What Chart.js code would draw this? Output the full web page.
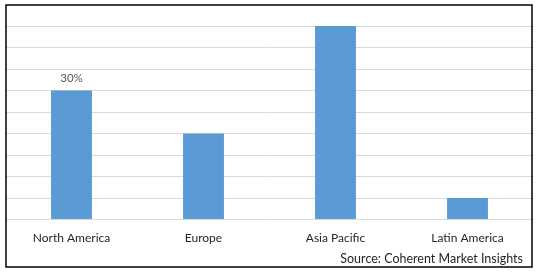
<!DOCTYPE html>
<html>
<head>
<meta charset="utf-8">
<script src="https://cdn.jsdelivr.net/npm/chart.js@4/dist/chart.umd.min.js"></script>
<style>
  html, body { margin: 0; padding: 0; background: #fff; }
  #wrap { width: 538px; height: 272px; position: relative; }
</style>
</head>
<body>
<div id="wrap"><canvas id="chart" width="538" height="272"></canvas></div>
<script>
// chart data
var regions = ['North America', 'Europe', 'Asia Pacific', 'Latin America'];
var shares = [30, 20, 45, 5];
var shareLabels = ['30%', '', '', ''];
var sourceText = 'Source: Coherent Market Insights';

// draws the frame, the value label and the source line
var extras = {
  id: 'extras',
  afterDraw: function(chart) {
    var ctx = chart.ctx;
    ctx.save();
    ctx.strokeStyle = '#000';
    ctx.lineWidth = 1.5;
    ctx.strokeRect(6, 5, 526, 262);

    ctx.font = '11.5px Lato';
    ctx.fillStyle = '#595959';
    ctx.textAlign = 'center';
    ctx.textBaseline = 'middle';
    chart.getDatasetMeta(0).data.forEach(function(bar, i) {
      if (shareLabels[i]) ctx.fillText(shareLabels[i], bar.x, bar.y - 12);
    });

    ctx.fillStyle = '#262626';
    ctx.font = '12.5px Lato';
    ctx.textAlign = 'right';
    ctx.fillText(sourceText, 523, 259);
    ctx.restore();
  }
};

new Chart(document.getElementById('chart'), {
  type: 'bar',
  data: {
    labels: regions,
    datasets: [{
      data: shares,
      backgroundColor: '#5B9BD5',
      barPercentage: 0.31,
      categoryPercentage: 1
    }]
  },
  options: {
    responsive: false,
    animation: false,
    layout: { padding: { left: 5.5, right: 4.5, top: 26, bottom: 24 } },
    plugins: { legend: { display: false }, tooltip: { enabled: false } },
    scales: {
      x: {
        grid: { display: false },
        border: { display: false },
        ticks: { color: '#262626', font: { family: 'Lato', size: 12 }, padding: 3, maxRotation: 0 }
      },
      y: {
        min: 0,
        max: 45,
        ticks: { display: false, stepSize: 5 },
        grid: { color: '#D9D9D9', lineWidth: 1, drawTicks: false },
        border: { display: false }
      }
    }
  },
  plugins: [extras]
});
</script>
</body>
</html>
